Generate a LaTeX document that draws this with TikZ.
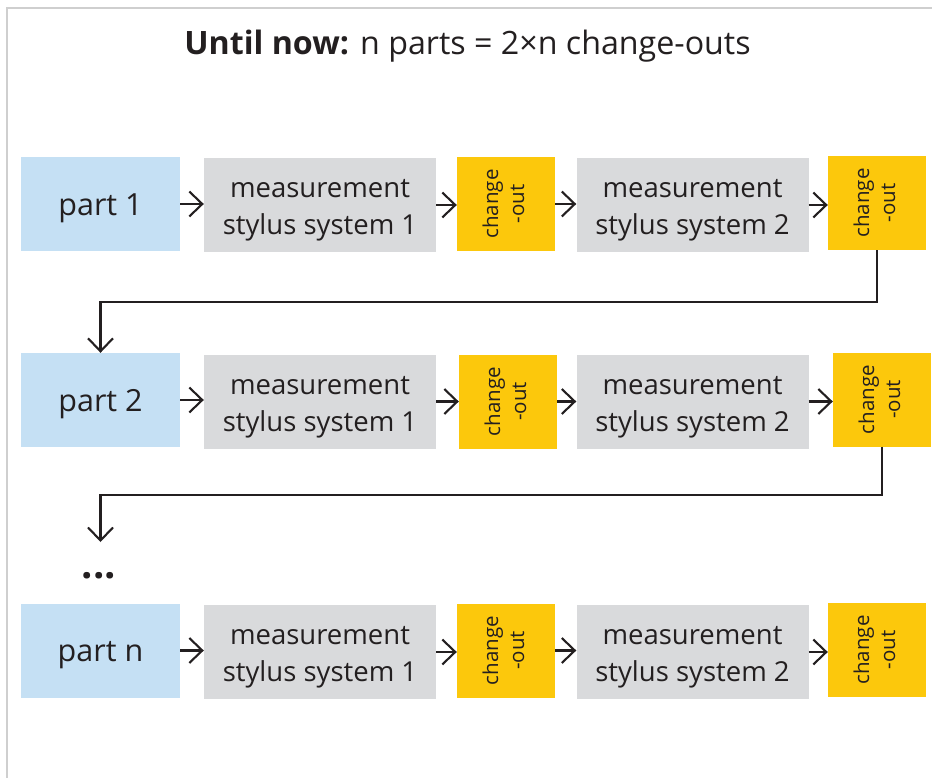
\documentclass[tikz,border=0pt]{standalone}
\usepackage{fontspec}
\setmainfont{Open Sans}
\usetikzlibrary{arrows.meta}
\definecolor{partblue}{HTML}{C5E0F4}
\definecolor{measgray}{HTML}{D9DADC}
\definecolor{coyellow}{HTML}{FCC80C}
\definecolor{txt}{HTML}{231F20}
\definecolor{framegray}{HTML}{CFCFCF}
\tikzset{
  box/.style={inner sep=0pt, minimum height=94pt, align=center, text=txt},
  partbox/.style={box, fill=partblue, minimum width=159pt, font=\fontsize{30.5}{36}\selectfont},
  measbox/.style={box, fill=measgray, minimum width=232pt, font=\fontsize{27.5}{37}\selectfont},
  cobox/.style={box, fill=coyellow, minimum width=98pt, font=\fontsize{20.5}{26}\selectfont},
  arr/.style={draw=txt, line width=2.1pt, -{Straight Barb[length=13pt,width=25pt,line width=2.1pt]}},
  conn/.style={draw=txt, line width=2.4pt, -{Straight Barb[length=13pt,width=25pt,line width=2.1pt]}}
}
\newcommand{\dn}[2][4pt]{\raisebox{-#1}[\height][\depth]{\begin{tabular}{@{}c@{}}#2\end{tabular}}}
\newcommand{\co}{\rotatebox{90}{\begin{tabular}{@{}c@{}}change\\-out\end{tabular}}}
\begin{document}
\begin{tikzpicture}[x=1pt,y=-1pt]
\useasboundingbox (0,0) rectangle (932,778);
\draw[framegray, line width=2pt] (6.5,778) -- (6.5,8.5) -- (932,8.5);
\node[anchor=base, text=txt, font=\fontsize{32.2}{38}\selectfont] (title) at (467.5,55) {\textbf{Until now:} n parts = 2×n change-outs};
% row 1
\node[partbox] (p1) at (100.5,204) {\dn{part 1}};
\node[measbox] (m11) at (320,205) {\dn{measurement\\stylus system 1}};
\node[cobox] (c11) at (506,204) {\co};
\node[measbox] (m12) at (692.5,205) {\dn{measurement\\stylus system 2}};
\node[cobox] (c12) at (877,203) {\co};
% row 2
\node[partbox] (p2) at (100.5,400) {\dn{part 2}};
\node[measbox] (m21) at (320,401.5) {\dn{measurement\\stylus system 1}};
\node[cobox] (c21) at (508,401.5) {\co};
\node[measbox] (m22) at (692.5,401.5) {\dn{measurement\\stylus system 2}};
\node[cobox] (c22) at (882,399.5) {\co};
% row n
\node[partbox] (pn) at (100.5,650.5) {\dn{part n}};
\node[measbox] (mn1) at (320,652) {\dn{measurement\\stylus system 1}};
\node[cobox] (cn1) at (506,650.5) {\co};
\node[measbox] (mn2) at (692.5,652) {\dn{measurement\\stylus system 2}};
\node[cobox] (cn2) at (877,650) {\co};
\node[text=txt, inner sep=0pt, font=\fontsize{40}{40}\selectfont\bfseries] (dots) at (99,576) {...};
\coordinate (e) at (100.5,542);
% horizontal arrows
\foreach \a/\b in {p1/m11, m11/c11, c11/m12, m12/c12, p2/m21, m21/c21, c21/m22, m22/c22, pn/mn1, mn1/cn1, cn1/mn2, mn2/cn2}
  \draw[arr] (\a.east) -- (\a.east -| \b.west);
% connectors
\draw[conn] (c12.south) -- ++(0,52) -| (p2.north);
\draw[conn] (c22.south) -- ++(0,48) -| (e);
\end{tikzpicture}
\end{document}
